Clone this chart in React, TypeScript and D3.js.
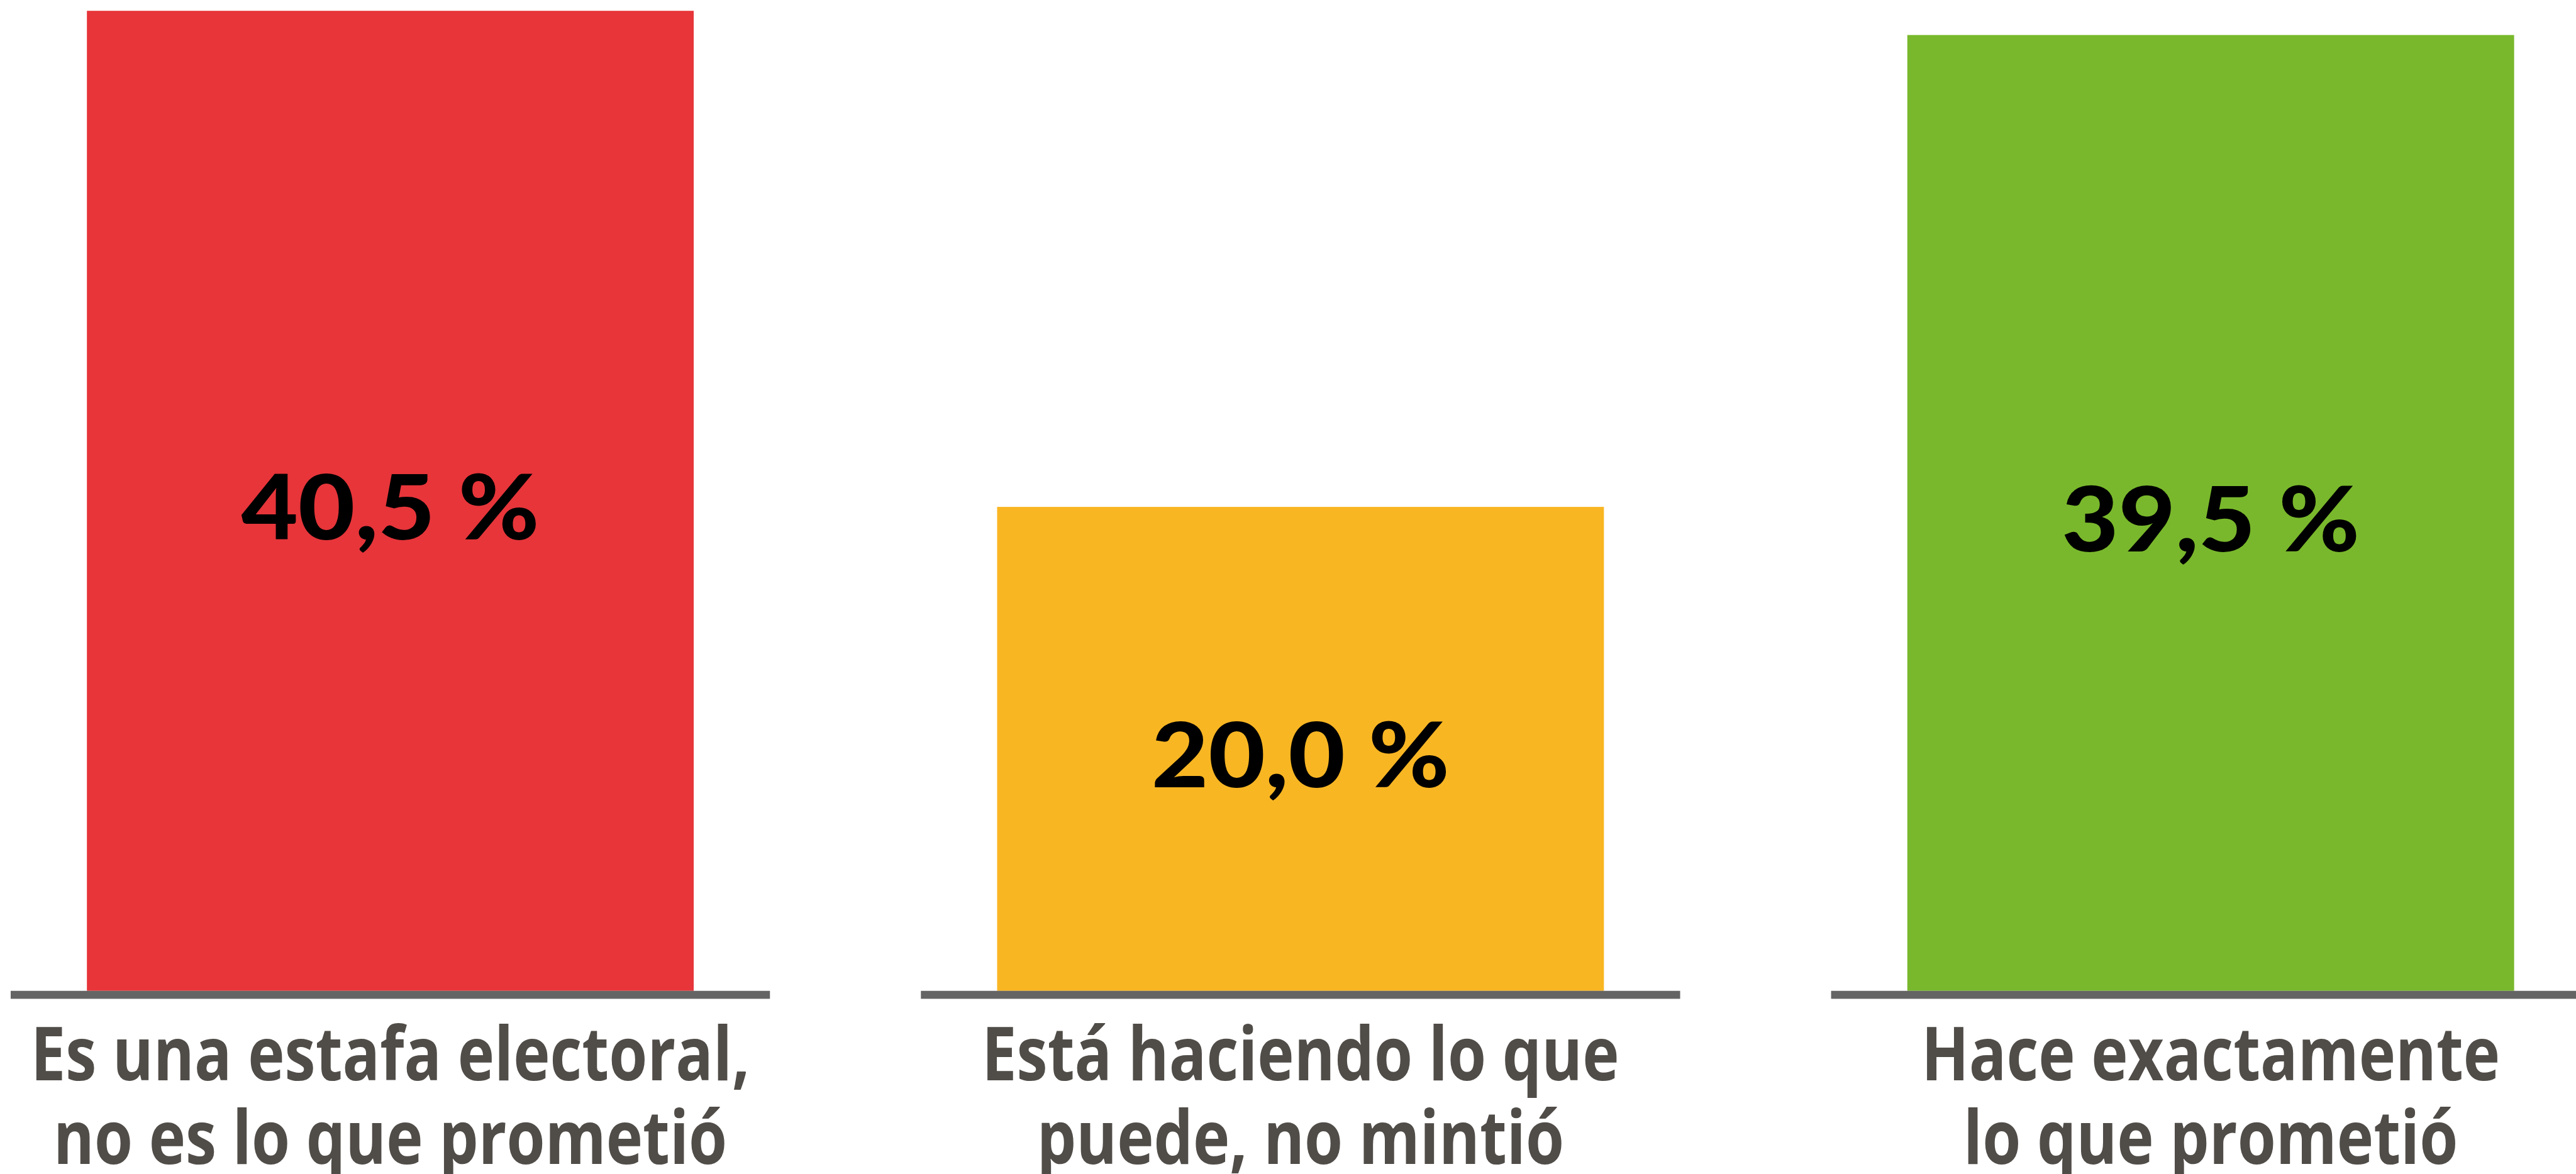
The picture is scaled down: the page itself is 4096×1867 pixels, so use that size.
import React from "react";
import { scaleBand, scaleLinear } from "d3";

// survey answers
const categories = ["estafa", "puede", "exacto"];
const values = [40.5, 20.0, 39.5];
const valueLabels = ["40,5 %", "20,0 %", "39,5 %"];
const labelLines = [
  ["Es una estafa electoral,", "no es lo que prometió"],
  ["Está haciendo lo que", "puede, no mintió"],
  ["Hace exactamente", "lo que prometió"],
];
const colors = ["#e7353a", "#f9b623", "#79b82c"];

const App = () => {
  // drawn in the reference's own units, the viewBox scales it to the window
  const W = 4527;
  const H = 2064;
  const base = 1742;

  const x = scaleBand()
    .domain(categories)
    .range([-114.5, 4685.5])
    .paddingInner(1 / 3)
    .paddingOuter(1 / 6);

  const y = scaleLinear().domain([0, 40.5]).range([base, 19]);

  const bw = x.bandwidth();
  const overhang = 134;

  return (
    <svg
      width={4096}
      height={1867}
      viewBox={`0 0 ${W} ${H}`}
      style={{ position: "absolute", left: 0, top: 0, background: "#fff" }}
    >
      {categories.map((c, i) => {
        const x0 = x(c);
        const cx = x0 + bw / 2;
        const top = y(values[i]);
        const mid = (top + base) / 2;
        return (
          <g key={c}>
            <rect x={x0} y={top} width={bw} height={base - top} fill={colors[i]} />
            <rect x={x0 - overhang} y={base} width={bw + overhang * 2} height={14} fill="#646464" />
            <text
              transform={`translate(${cx},${mid + 68}) scale(1.09,1)`}
              textAnchor="middle"
              fontFamily="Lato, 'Open Sans', sans-serif"
              fontWeight={900}
              fontSize={158}
              fill="#000"
            >
              {valueLabels[i]}
            </text>
            {labelLines[i].map((line, j) => (
              <text
                key={j}
                transform={`translate(${cx},${1899 + j * 147}) scale(0.84,1)`}
                textAnchor="middle"
                fontFamily="'Open Sans', sans-serif"
                fontWeight={700}
                fontSize={130}
                fill="#504c48"
              >
                {line}
              </text>
            ))}
          </g>
        );
      })}
    </svg>
  );
};

export default App;
